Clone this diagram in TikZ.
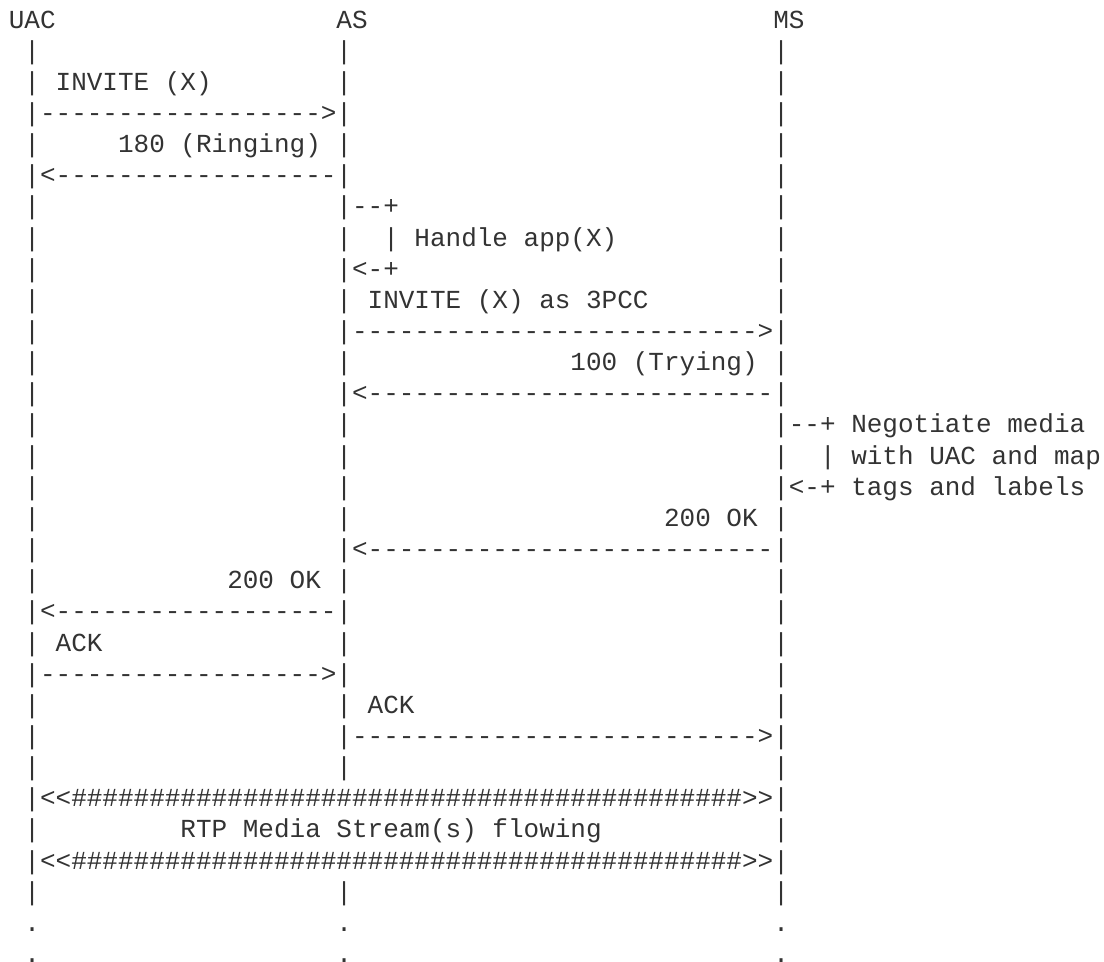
\documentclass[tikz,border=0pt]{standalone}
\usepackage{fontspec}
\setmonofont{Liberation Mono}
\definecolor{cink}{HTML}{333333}
\tikzset{
  every picture/.style={font=\ttfamily\fontsize{13pt}{15.6pt}\selectfont},
  asc/.style={anchor=base west, inner sep=0pt, outer sep=0pt, text=cink},
}
\begin{document}
\begin{tikzpicture}[x=7.8pt, y=-15.575pt]
  \useasboundingbox (-0.57,0.1) rectangle (70.2,30.98);
  % parties
  \node[asc] (uac) at (0,1) {UAC};
  \node[asc] (as) at (21,1) {AS};
  \node[asc] (ms) at (49,1) {MS};
  % lifelines
  \foreach \r in {2,...,29} \node[asc] (uac\r) at (1,\r) {|};
  \foreach \r in {2,...,25,29} \node[asc] (as\r) at (21,\r) {|};
  \foreach \r in {2,...,29} \node[asc] (ms\r) at (49,\r) {|};
  \foreach \c/\n in {1/uac, 21/as, 49/ms} \foreach \r in {30,31} \node[asc] (\n\r) at (\c,\r) {.};
  % UAC <-> AS
  \node[asc] (inv) at (3,3) {INVITE (X)};
  \node[asc] (a1) at (2,4) {------------------>};
  \node[asc] (ring) at (7,5) {180 (Ringing)};
  \node[asc] (a2) at (2,6) {<------------------};
  % AS self loop
  \node[asc] (s1) at (22,7) {--+};
  \node[asc] (s2) at (24,8) {|};
  \node[asc] (app) at (26,8) {Handle app(X)};
  \node[asc] (s3) at (22,9) {<-+};
  % AS <-> MS
  \node[asc] (inv3) at (23,10) {INVITE (X) as 3PCC};
  \node[asc] (a3) at (22,11) {-------------------------->};
  \node[asc] (try) at (36,12) {100 (Trying)};
  \node[asc] (a4) at (22,13) {<--------------------------};
  % MS self loop
  \node[asc] (n1) at (50,14) {--+ Negotiate media};
  \node[asc] (n2) at (52,15) {|};
  \node[asc] (n3) at (54,15) {with UAC and map};
  \node[asc] (n4) at (50,16) {<-+ tags and labels};
  \node[asc] (ok1) at (42,17) {200 OK};
  \node[asc] (a5) at (22,18) {<--------------------------};
  % answers
  \node[asc] (ok2) at (14,19) {200 OK};
  \node[asc] (a6) at (2,20) {<------------------};
  \node[asc] (ack1) at (3,21) {ACK};
  \node[asc] (a7) at (2,22) {------------------>};
  \node[asc] (ack2) at (23,23) {ACK};
  \node[asc] (a8) at (22,24) {-------------------------->};
  % media
  \node[asc] (rtp1) at (2,26) {<<\#\#\#\#\#\#\#\#\#\#\#\#\#\#\#\#\#\#\#\#\#\#\#\#\#\#\#\#\#\#\#\#\#\#\#\#\#\#\#\#\#\#\#>>};
  \node[asc] (rtp) at (11,27) {RTP Media Stream(s) flowing};
  \node[asc] (rtp2) at (2,28) {<<\#\#\#\#\#\#\#\#\#\#\#\#\#\#\#\#\#\#\#\#\#\#\#\#\#\#\#\#\#\#\#\#\#\#\#\#\#\#\#\#\#\#\#>>};
\end{tikzpicture}
\end{document}
